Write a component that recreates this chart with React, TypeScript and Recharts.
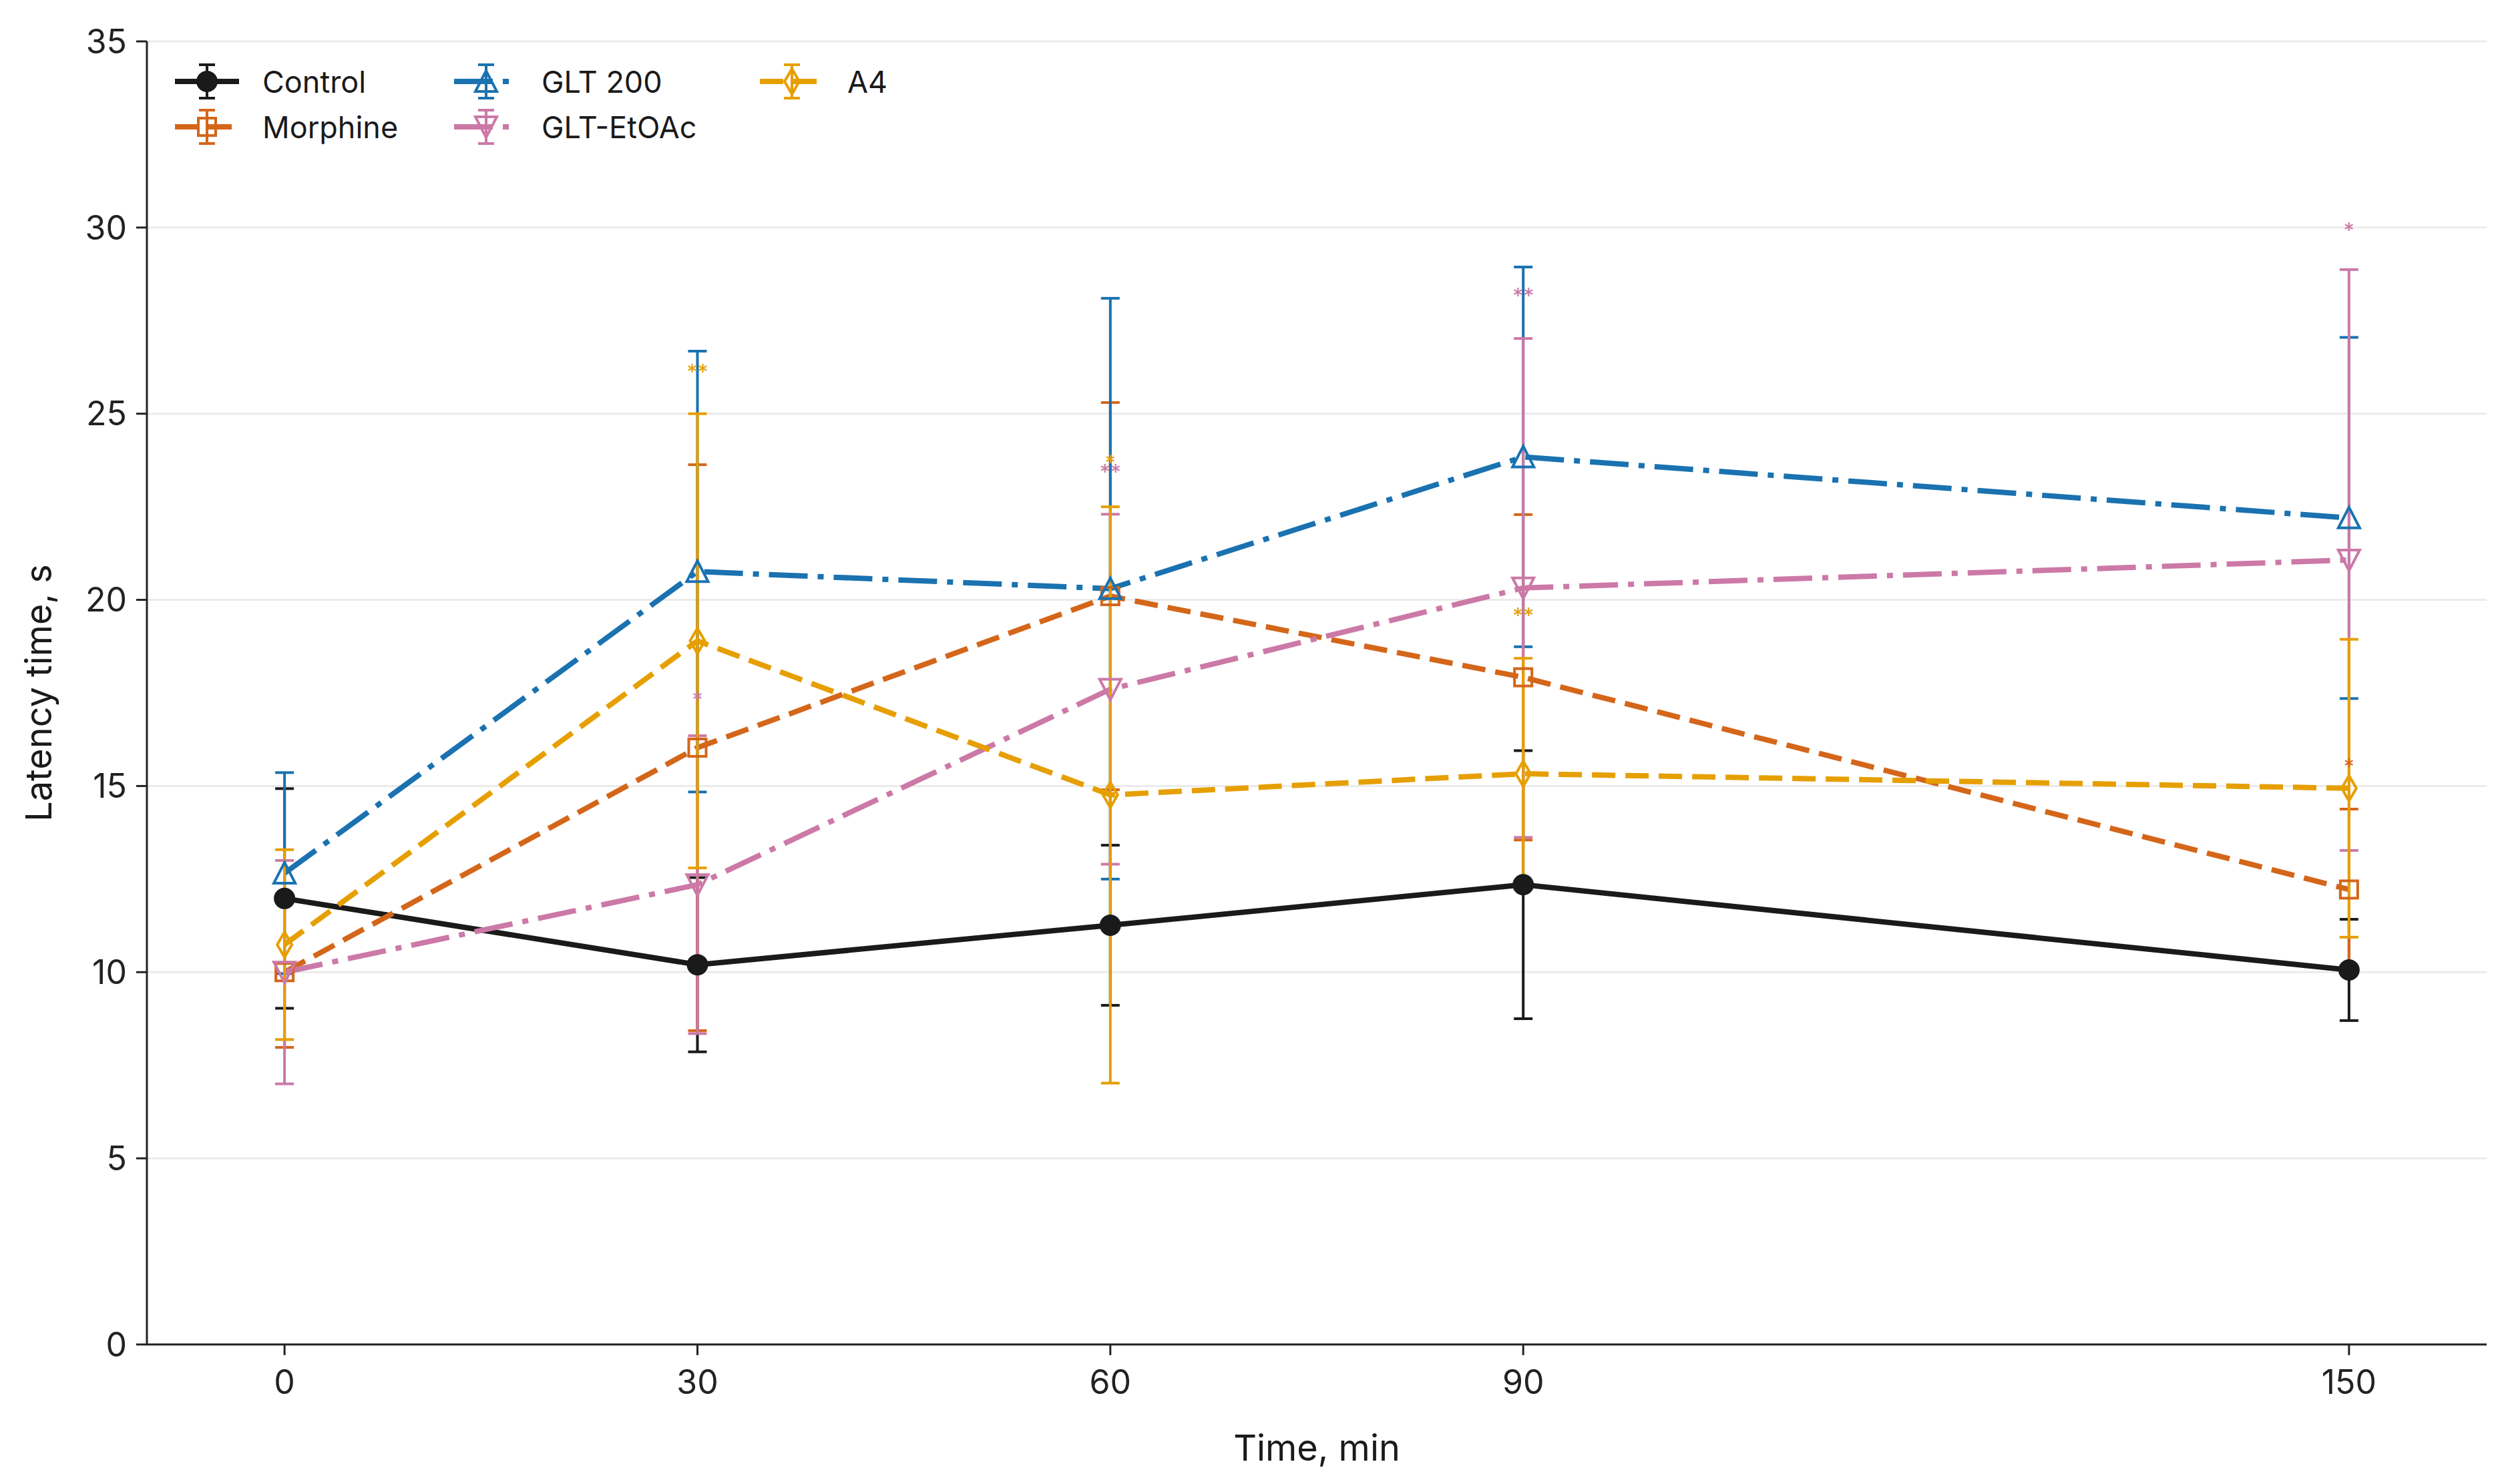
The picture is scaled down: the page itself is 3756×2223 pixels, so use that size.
import React from 'react';
import { ComposedChart, Line, Scatter, XAxis, YAxis, CartesianGrid, ErrorBar, Legend } from 'recharts';

// ---- data ----
const times = [0, 30, 60, 90, 150];
const yTicks = [0, 5, 10, 15, 20, 25, 30, 35];

const controlMean = [11.98, 10.2, 11.26, 12.35, 10.06];
const controlErr = [2.95, 2.34, 2.15, 3.6, 1.36];

const morphineMean = [10.0, 16.03, 20.1, 17.92, 12.22];
const morphineErr = [2.02, 7.6, 5.2, 4.37, 2.16];

const glt200Mean = [12.66, 20.76, 20.3, 23.84, 22.2];
const glt200Err = [2.7, 5.92, 7.8, 5.1, 4.85];

const gltEtOAcMean = [10.0, 12.35, 17.6, 20.32, 21.07];
const gltEtOAcErr = [3.0, 4.0, 4.7, 6.7, 7.8];

const a4Mean = [10.74, 18.9, 14.76, 15.33, 14.94];
const a4Err = [2.55, 6.1, 7.74, 3.1, 4.0];

// significance marks: time, value (position), text, series
const annotTimes = [30, 30, 60, 60, 90, 90, 150, 150];
const annotValues = [26.2, 17.4, 23.75, 23.5, 28.24, 19.65, 30.0, 15.6];
const annotTexts = ['**', '*', '*', '**', '**', '**', '*', '*'];
const annotSeries = ['a4', 'etoac', 'a4', 'etoac', 'etoac', 'a4', 'etoac', 'morphine'];

// ---- styling ----
const FONT = 'Inter, "Noto Sans", sans-serif';
const LW = 8;
const DASH = '35 15';
const DASHDOT = '58 15 9 15';

type SDef = { key: string; name: string; color: string; marker: string; dash?: string; mean: number[]; err: number[] };

const series: SDef[] = [
  { key: 'control', name: 'Control', color: '#1a1a1a', marker: 'circle', mean: controlMean, err: controlErr },
  { key: 'morphine', name: 'Morphine', color: '#D4661A', marker: 'square', dash: DASH, mean: morphineMean, err: morphineErr },
  { key: 'glt200', name: 'GLT 200', color: '#1A72B0', marker: 'triUp', dash: DASHDOT, mean: glt200Mean, err: glt200Err },
  { key: 'etoac', name: 'GLT-EtOAc', color: '#CC79A7', marker: 'triDown', dash: DASHDOT, mean: gltEtOAcMean, err: gltEtOAcErr },
  { key: 'a4', name: 'A4', color: '#E69F00', marker: 'diamond', dash: DASH, mean: a4Mean, err: a4Err },
];
const colorOf: Record<string, string> = {};
series.forEach((s) => (colorOf[s.key] = s.color));

const data = times.map((t, i) => {
  const row: any = { t };
  series.forEach((s) => {
    row[s.key] = s.mean[i];
    row[s.key + 'Err'] = s.err[i];
  });
  return row;
});

const annots = annotTimes.map((t, i) => ({ t, v: annotValues[i], s: annotTexts[i], c: colorOf[annotSeries[i]] }));

function Marker({ type, cx, cy, color }: { type: string; cx: number; cy: number; color: string }) {
  const sw = 4;
  if (type === 'circle') return <circle cx={cx} cy={cy} r={15} fill={color} stroke={color} strokeWidth={2} />;
  if (type === 'square')
    return <rect x={cx - 13} y={cy - 13} width={26} height={26} fill="none" stroke={color} strokeWidth={sw} />;
  if (type === 'triUp')
    return (
      <polygon points={`${cx},${cy - 16} ${cx - 16},${cy + 15} ${cx + 16},${cy + 15}`} fill="none" stroke={color} strokeWidth={sw} strokeLinejoin="miter" />
    );
  if (type === 'triDown')
    return (
      <polygon points={`${cx},${cy + 16} ${cx - 16},${cy - 15} ${cx + 16},${cy - 15}`} fill="none" stroke={color} strokeWidth={sw} strokeLinejoin="miter" />
    );
  return (
    <polygon points={`${cx},${cy - 19} ${cx + 11},${cy} ${cx},${cy + 19} ${cx - 11},${cy}`} fill="none" stroke={color} strokeWidth={sw} />
  );
}

const legendCols = [
  { x0: 262, keys: ['control', 'morphine'] },
  { x0: 680, keys: ['glt200', 'etoac'] },
  { x0: 1138, keys: ['a4'] },
];
const legendRows = [122, 190];

function LegendContent() {
  return (
    <svg width={1400} height={260} style={{ display: 'block', overflow: 'visible' }}>
      {legendCols.map((col) =>
        col.keys.map((k, r) => {
          const s = series.find((x) => x.key === k)!;
          const y = legendRows[r];
          const cx = col.x0 + 48;
          return (
            <g key={k}>
              <line x1={col.x0} y1={y} x2={col.x0 + 96} y2={y} stroke={s.color} strokeWidth={LW} strokeDasharray={s.dash} />
              <line x1={cx} y1={y - 25} x2={cx} y2={y + 25} stroke={s.color} strokeWidth={4} />
              <line x1={cx - 12} y1={y - 25} x2={cx + 12} y2={y - 25} stroke={s.color} strokeWidth={4} />
              <line x1={cx - 12} y1={y + 25} x2={cx + 12} y2={y + 25} stroke={s.color} strokeWidth={4} />
              <Marker type={s.marker} cx={cx} cy={y} color={s.color} />
              <text x={col.x0 + 131} y={y} dominantBaseline="central" fontSize={45} fontFamily={FONT} fill="#1a1a1a">
                {s.name}
              </text>
            </g>
          );
        })
      )}
    </svg>
  );
}

function YLabel(props: any) {
  const vb = props.viewBox || { y: 62, height: 1952 };
  const cy = vb.y + vb.height / 2;
  return (
    <text x={57} y={cy} transform={`rotate(-90, 57, ${cy})`} textAnchor="middle" dominantBaseline="central" fontSize={54} fontFamily={FONT} fill="#1a1a1a">
      Latency time, s
    </text>
  );
}

function XLabel(props: any) {
  const vb = props.viewBox || { x: 220, width: 3504 };
  const cx = vb.x + vb.width / 2;
  return (
    <text x={cx} y={2168} textAnchor="middle" dominantBaseline="central" fontSize={54} fontFamily={FONT} fill="#1a1a1a">
      Time, min
    </text>
  );
}

export default function App() {
  return (
    <div style={{ position: 'absolute', left: 0, top: 0, width: 3756, height: 2223, background: '#fff' }}>
      <ComposedChart width={3756} height={2223} data={data} margin={{ top: 62, right: 32, bottom: 0, left: 0 }}>
        <CartesianGrid vertical={false} stroke="#ebebeb" strokeWidth={3} />
        <XAxis
          dataKey="t"
          type="number"
          domain={[-10, 160]}
          ticks={times}
          interval={0}
          height={209}
          tickSize={16}
          tickMargin={22}
          axisLine={{ stroke: '#222', strokeWidth: 3 }}
          tickLine={{ stroke: '#222', strokeWidth: 3 }}
          tick={{ fontSize: 50, fill: '#222', fontFamily: FONT }}
          label={<XLabel />}
        />
        <YAxis
          type="number"
          domain={[0, 35]}
          ticks={yTicks}
          interval={0}
          width={220}
          tickSize={16}
          tickMargin={14}
          axisLine={{ stroke: '#222', strokeWidth: 3 }}
          tickLine={{ stroke: '#222', strokeWidth: 3 }}
          tick={{ fontSize: 50, fill: '#222', fontFamily: FONT }}
          label={<YLabel />}
        />
        {series.map((s) => (
          <Line
            key={s.key}
            dataKey={s.key}
            name={s.name}
            type="linear"
            stroke={s.color}
            strokeWidth={LW}
            strokeDasharray={s.dash}
            isAnimationActive={false}
            dot={(p: any) => <Marker key={`${s.key}-${p.index}`} type={s.marker} cx={p.cx} cy={p.cy} color={s.color} />}
            activeDot={false}
          >
            <ErrorBar dataKey={s.key + 'Err'} width={14} stroke={s.color} strokeWidth={4} direction="y" />
          </Line>
        ))}
        <Scatter
          data={annots}
          dataKey="v"
          isAnimationActive={false}
          legendType="none"
          shape={(p: any) => (
            <text x={p.cx} y={p.cy} dy={16} textAnchor="middle" fontSize={32} fontFamily={FONT} fill={p.payload.c}>
              {p.payload.s}
            </text>
          )}
        />
        <Legend
          layout="horizontal"
          verticalAlign="middle"
          align="center"
          width={1400}
          height={260}
          wrapperStyle={{ left: 0, top: 0, width: 1400, height: 260 }}
          content={() => <LegendContent />}
        />
      </ComposedChart>
    </div>
  );
}
